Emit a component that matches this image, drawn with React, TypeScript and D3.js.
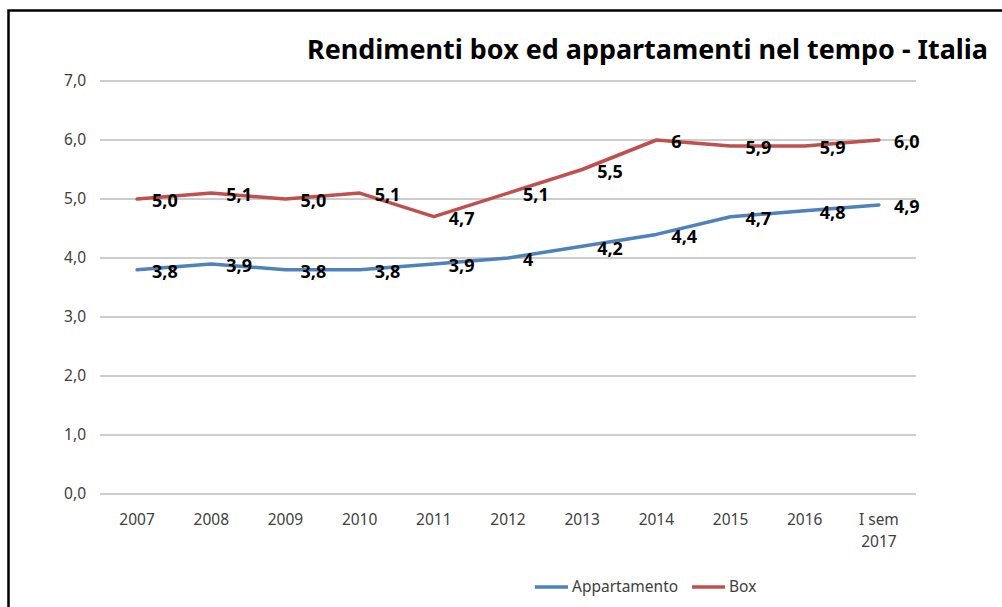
import * as d3 from "d3";

const categories = ["2007", "2008", "2009", "2010", "2011", "2012", "2013", "2014", "2015", "2016", "I sem 2017"];
const appartamentoValues = [3.8, 3.9, 3.8, 3.8, 3.9, 4.0, 4.2, 4.4, 4.7, 4.8, 4.9];
const boxValues = [5.0, 5.1, 5.0, 5.1, 4.7, 5.1, 5.5, 6.0, 5.9, 5.9, 6.0];
const appartamentoLabels = ["3,8", "3,9", "3,8", "3,8", "3,9", "4", "4,2", "4,4", "4,7", "4,8", "4,9"];
const boxLabels = ["5,0", "5,1", "5,0", "5,1", "4,7", "5,1", "5,5", "6", "5,9", "5,9", "6,0"];
const yTicks = [0, 1, 2, 3, 4, 5, 6, 7];

const series = [
  { name: "Appartamento", values: appartamentoValues, labels: appartamentoLabels, color: "#4F81BD" },
  { name: "Box", values: boxValues, labels: boxLabels, color: "#C0504D" },
];

const font = "'Noto Sans', 'Open Sans', sans-serif";
const plot = { left: 100, right: 916, top: 81, bottom: 494 };

export default function App() {
  const x = d3.scaleBand<string>().domain(categories).range([plot.left, plot.right]);
  const y = d3.scaleLinear().domain([0, 7]).range([plot.bottom, plot.top]);
  const cx = (c: string) => (x(c) ?? 0) + x.bandwidth() / 2;
  const fmt = (v: number) => d3.format(".1f")(v).replace(".", ",");

  const line = d3
    .line<number>()
    .x((_, i) => cx(categories[i]))
    .y((d) => y(d));

  const legendItems = [
    { name: "Appartamento", color: "#4F81BD", x: 535 },
    { name: "Box", color: "#C0504D", x: 692 },
  ];

  return (
    <svg
      width={1002}
      height={607}
      style={{ position: "absolute", left: 0, top: 0, fontFamily: font }}
    >
      <rect x={0} y={0} width={1002} height={607} fill="white" />
      <rect x={8.5} y={10.5} width={1010} height={700} fill="white" stroke="#000" strokeWidth={2.5} />

      <text
        x={307}
        y={59}
        fontSize={27}
        fontWeight="bold"
        fill="#000"
        textLength={681}
        lengthAdjust="spacingAndGlyphs"
      >
        Rendimenti box ed appartamenti nel tempo - Italia
      </text>

      {yTicks.map((t) => (
        <g key={t}>
          <line x1={plot.left} x2={plot.right} y1={y(t)} y2={y(t)} stroke="#9A9A9A" strokeWidth={1} />
          <text x={86} y={y(t)} dy="0.35em" textAnchor="end" fontSize={15.5} fill="#404040">
            {fmt(t)}
          </text>
        </g>
      ))}

      {categories.map((c) => {
        const parts = c === "I sem 2017" ? ["I sem", "2017"] : [c];
        return (
          <text key={c} x={cx(c)} y={525} textAnchor="middle" fontSize={15.5} fill="#404040">
            {parts.map((p, i) => (
              <tspan key={p} x={cx(c)} dy={i === 0 ? 0 : 22}>
                {p}
              </tspan>
            ))}
          </text>
        );
      })}

      {series.map((s) => (
        <path
          key={s.name}
          d={line(s.values) ?? ""}
          fill="none"
          stroke={s.color}
          strokeWidth={3.5}
          strokeLinejoin="round"
          strokeLinecap="round"
        />
      ))}

      {series.map((s) =>
        s.values.map((v, i) => (
          <text
            key={s.name + i}
            x={cx(categories[i]) + 15}
            y={y(v) + 2}
            dy="0.35em"
            fontSize={18}
            fontWeight="bold"
            fill="#000"
          >
            {s.labels[i]}
          </text>
        ))
      )}

      {legendItems.map((l) => (
        <g key={l.name}>
          <line x1={l.x} x2={l.x + 33} y1={587} y2={587} stroke={l.color} strokeWidth={3.5} />
          <text x={l.x + 37} y={587} dy="0.35em" fontSize={15.5} fill="#404040">
            {l.name}
          </text>
        </g>
      ))}
    </svg>
  );
}
